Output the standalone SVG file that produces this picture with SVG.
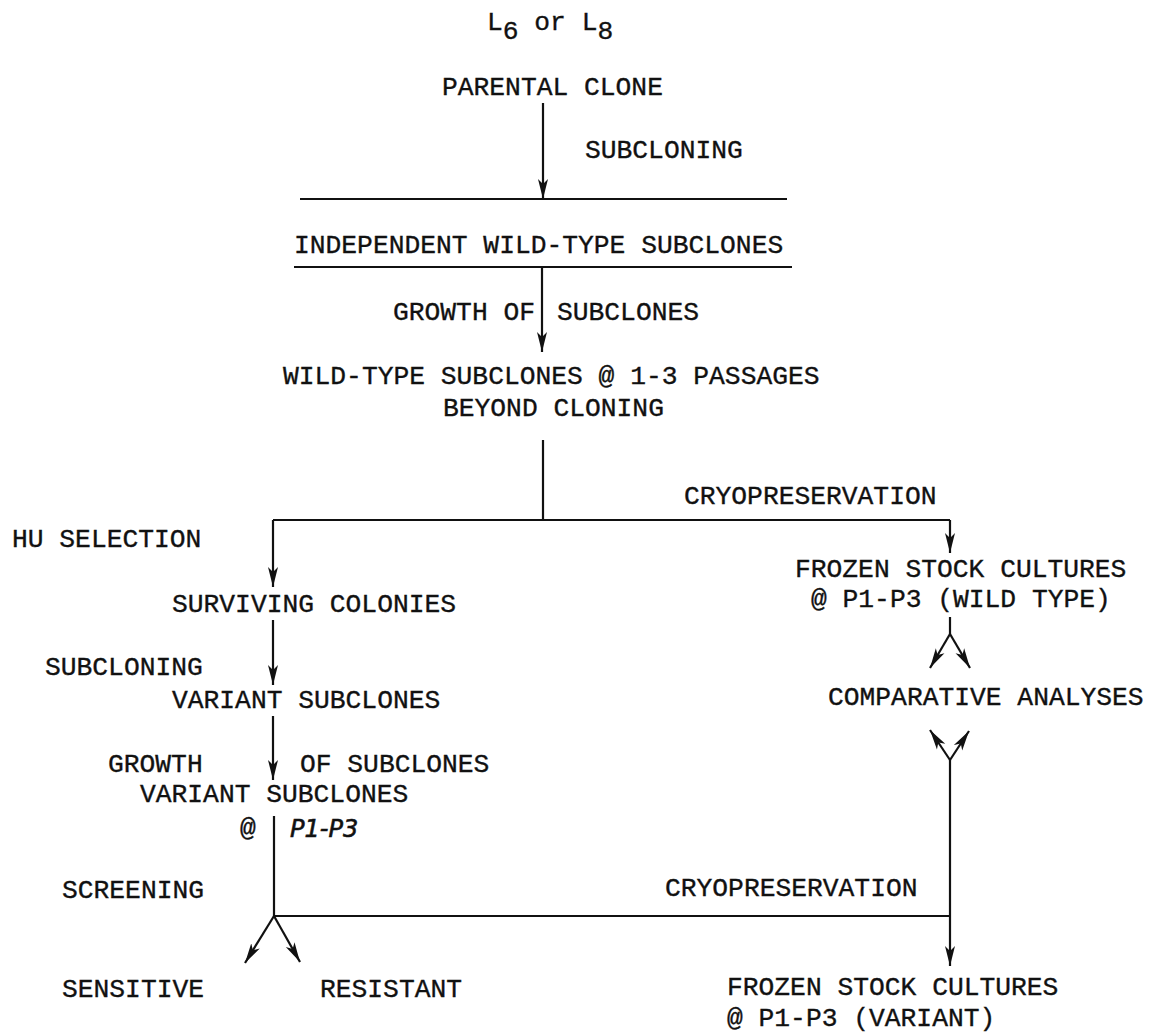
<svg xmlns="http://www.w3.org/2000/svg" width="1161" height="1032" viewBox="0 0 1161 1032">
<defs>
<style>
text{font-family:"Liberation Mono","Courier New",monospace;font-size:26.3px;fill:#111;stroke:#111;stroke-width:0.35}
.hand{font-family:"DejaVu Sans",sans-serif;font-style:italic;font-size:24px;stroke-width:0.6}
.c{fill:none;stroke:#111;stroke-width:2.2}
</style>
<marker id="ah" viewBox="0 0 20 12" refX="20" refY="6" markerWidth="20" markerHeight="12" markerUnits="userSpaceOnUse" orient="auto">
<path d="M0,1 L20,6 L0,11 L5,6 Z" fill="#111"/>
</marker>
</defs>
<rect width="1161" height="1032" fill="#fff"/>
<g id="connectors">
<path class="c" d="M543,103 V199" marker-end="url(#ah)"/>
<path class="c" d="M300,199 H787"/>
<path class="c" d="M294,267 H792"/>
<path class="c" d="M542,267 V352" marker-end="url(#ah)"/>
<path class="c" d="M543,440 V520"/>
<path class="c" d="M273,520 H950"/>
<path class="c" d="M273,520 V587" marker-end="url(#ah)"/>
<path class="c" d="M950,520 V553" marker-end="url(#ah)"/>
<path class="c" d="M273,620 V685" marker-end="url(#ah)"/>
<path class="c" d="M273,716 V780" marker-end="url(#ah)"/>
<path class="c" d="M274,816 V916 H950"/>
<path class="c" d="M274,916 L245,963" marker-end="url(#ah)"/>
<path class="c" d="M274,916 L300,962" marker-end="url(#ah)"/>
<path class="c" d="M950,617 V634"/>
<path class="c" d="M950,634 L930,668" marker-end="url(#ah)"/>
<path class="c" d="M950,634 L970,668" marker-end="url(#ah)"/>
<path class="c" d="M950,760 L930,730" marker-end="url(#ah)"/>
<path class="c" d="M950,760 L969,731" marker-end="url(#ah)"/>
<path class="c" d="M950,760 V966" marker-end="url(#ah)"/>
</g>
<g id="n-source"><text x="487" y="30">L<tspan dy="9">6</tspan><tspan dy="-9"> or L</tspan><tspan dy="9">8</tspan></text></g>
<g id="n-parental"><text x="442" y="95">PARENTAL CLONE</text></g>
<g id="l-subcloning1"><text x="585" y="158">SUBCLONING</text></g>
<g id="n-independent"><text x="294" y="253">INDEPENDENT WILD-TYPE SUBCLONES</text></g>
<g id="l-growth1"><text x="393" y="320">GROWTH OF</text><text x="557" y="320">SUBCLONES</text></g>
<g id="n-wildtype"><text x="283" y="384">WILD-TYPE SUBCLONES @ 1-3 PASSAGES</text><text x="443" y="416">BEYOND CLONING</text></g>
<g id="l-cryo1"><text x="684" y="504">CRYOPRESERVATION</text></g>
<g id="l-hu"><text x="12" y="547">HU SELECTION</text></g>
<g id="n-frozen-wt"><text x="795" y="577">FROZEN STOCK CULTURES</text><text x="811" y="607">@ P1-P3 (WILD TYPE)</text></g>
<g id="n-surviving"><text x="172" y="612">SURVIVING COLONIES</text></g>
<g id="l-subcloning2"><text x="45" y="675">SUBCLONING</text></g>
<g id="n-comparative"><text x="828" y="705">COMPARATIVE ANALYSES</text></g>
<g id="n-variant1"><text x="172" y="708">VARIANT SUBCLONES</text></g>
<g id="l-growth2"><text x="108" y="772">GROWTH</text><text x="300" y="772">OF SUBCLONES</text></g>
<g id="n-variant2"><text x="140" y="802">VARIANT SUBCLONES</text><text x="240" y="836">@</text><text class="hand" x="290" y="837">P1-P3</text></g>
<g id="l-screening"><text x="62" y="898">SCREENING</text></g>
<g id="l-cryo2"><text x="665" y="896">CRYOPRESERVATION</text></g>
<g id="n-sensitive"><text x="62" y="997">SENSITIVE</text></g>
<g id="n-resistant"><text x="320" y="997">RESISTANT</text></g>
<g id="n-frozen-var"><text x="727" y="995">FROZEN STOCK CULTURES</text><text x="727" y="1026">@ P1-P3 (VARIANT)</text></g>
</svg>
